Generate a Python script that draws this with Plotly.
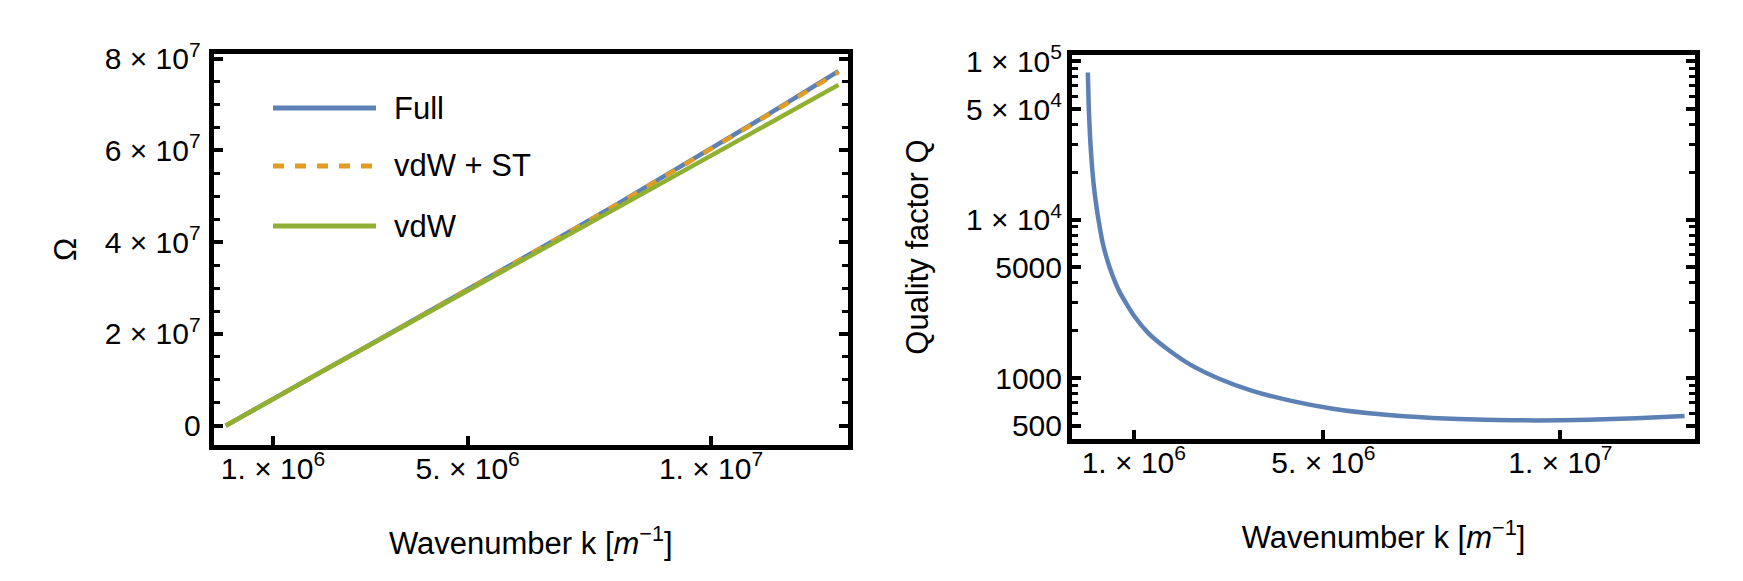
import plotly.graph_objs as go

# wavenumber samples (m^-1) for the dispersion panel
k_omega = [0.03e6, 1e6, 2e6, 3e6, 4e6, 5e6, 6e6, 7e6, 8e6, 9e6, 10e6, 11e6, 12e6, 12.62e6]
omega_full = [0.002e7, 0.589e7, 1.179e7, 1.770e7, 2.364e7, 2.963e7, 3.565e7, 4.173e7,
              4.786e7, 5.408e7, 6.037e7, 6.676e7, 7.324e7, 7.73e7]
omega_vdw_st = [0.002e7, 0.589e7, 1.179e7, 1.769e7, 2.362e7, 2.960e7, 3.561e7, 4.168e7,
                4.779e7, 5.399e7, 6.026e7, 6.662e7, 7.307e7, 7.71e7]
omega_vdw = [0.0, 0.589e7, 1.178e7, 1.766e7, 2.355e7, 2.944e7, 3.533e7, 4.122e7,
             4.710e7, 5.299e7, 5.888e7, 6.477e7, 7.066e7, 7.43e7]

# wavenumber samples for the quality factor panel
k_q = [0.03e6, 0.05e6, 0.08e6, 0.12e6, 0.18e6, 0.25e6, 0.35e6, 0.5e6, 0.7e6, 1.0e6,
       1.3e6, 1.7e6, 2.2e6, 2.8e6, 3.5e6, 4.3e6, 5.2e6, 6.2e6, 7.3e6, 8.4e6,
       9.5e6, 10.6e6, 11.6e6, 12.62e6]
q_factor = [85000, 51000, 32000, 21300, 14200, 10200, 7000, 4900, 3500, 2480,
            1930, 1530, 1210, 990, 830, 720, 640, 590, 560, 545,
            540, 545, 557, 575]

x_ticks = [1e6, 5e6, 1e7]
x_labels = ["1. × 10<sup>6</sup>", "5. × 10<sup>6</sup>", "1. × 10<sup>7</sup>"]
omega_ticks = [0, 2e7, 4e7, 6e7, 8e7]
omega_labels = ["0", "2 × 10<sup>7</sup>", "4 × 10<sup>7</sup>", "6 × 10<sup>7</sup>", "8 × 10<sup>7</sup>"]
omega_minor = [0.5e7, 1e7, 1.5e7, 2.5e7, 3e7, 3.5e7, 4.5e7, 5e7, 5.5e7, 6.5e7, 7e7, 7.5e7]
q_ticks = [500, 1000, 5000, 1e4, 5e4, 1e5]
q_labels = ["500", "1000", "5000", "1 × 10<sup>4</sup>", "5 × 10<sup>4</sup>", "1 × 10<sup>5</sup>"]
q_minor = [600, 700, 800, 900, 2000, 3000, 4000, 6000, 7000, 8000, 9000,
           2e4, 3e4, 4e4, 6e4, 7e4, 8e4, 9e4]

legend_names = ["Full", "vdW + ST", "vdW"]
colors = {"Full": "#5E81B5", "vdW + ST": "#E19C24", "vdW": "#8FB032"}

FONT = "Liberation Sans, Arial, sans-serif"

fig = go.Figure()

fig.add_trace(go.Scatter(x=k_omega, y=omega_full, mode="lines", name="Full",
                         line=dict(color=colors["Full"], width=4.5),
                         xaxis="x", yaxis="y", showlegend=False))
fig.add_trace(go.Scatter(x=k_omega, y=omega_vdw_st, mode="lines", name="vdW + ST",
                         line=dict(color=colors["vdW + ST"], width=4.5, dash="11px,11px"),
                         xaxis="x", yaxis="y", showlegend=False))
fig.add_trace(go.Scatter(x=k_omega, y=omega_vdw, mode="lines", name="vdW",
                         line=dict(color=colors["vdW"], width=4.5),
                         xaxis="x", yaxis="y", showlegend=False))
fig.add_trace(go.Scatter(x=k_q, y=q_factor, mode="lines", name="Q",
                         line=dict(color=colors["Full"], width=4.5, shape="spline", smoothing=0.5),
                         xaxis="x2", yaxis="y2", showlegend=False))

frame = dict(showline=True, linecolor="black", linewidth=5, showgrid=False,
             zeroline=False, ticks="inside", tickcolor="black", ticklen=9, tickwidth=3.5,
             automargin=False, tickfont=dict(family=FONT, size=30, color="black"))

xcommon = dict(frame, mirror=True, tickmode="array", tickvals=x_ticks, ticktext=x_labels,
               ticklabelstandoff=-7,
               title=dict(text="Wavenumber k [<i>m</i><sup>−1</sup>]",
                          font=dict(family=FONT, size=31, color="black"), standoff=50))

fig.update_layout(
    width=1743, height=581,
    paper_bgcolor="white", plot_bgcolor="white",
    margin=dict(l=0, r=0, t=0, b=0),
    showlegend=False,
    xaxis=dict(xcommon, domain=[0.11801, 0.48193], range=[-0.218e6, 12.815e6], anchor="y"),
    yaxis=dict(frame, mirror="ticks", domain=[0.24785, 0.92134], range=[-0.42e7, 8.109e7],
               anchor="x", tickmode="array", tickvals=omega_ticks, ticktext=omega_labels,
               ticklabelstandoff=2,
               minor=dict(tickmode="array", tickvals=omega_minor, ticks="inside",
                          ticklen=6, tickwidth=2.5, tickcolor="black"),
               title=dict(text="Ω", font=dict(family=FONT, size=31, color="black"), standoff=20)),
    xaxis2=dict(xcommon, domain=[0.61044, 0.96787], range=[-0.304e6, 12.84e6], anchor="y2"),
    yaxis2=dict(frame, mirror="ticks", type="log", domain=[0.25818, 0.91910],
                range=[2.615, 5.040], anchor="x2", tickmode="array", tickvals=q_ticks,
                ticktext=q_labels, ticklabelstandoff=-1,
                minor=dict(tickmode="array", tickvals=q_minor, ticks="inside",
                           ticklen=6, tickwidth=2.5, tickcolor="black"),
                title=dict(text="Quality factor Q", font=dict(family=FONT, size=31, color="black"),
                           standoff=30)),
)

# legend drawn by hand so the line samples are as long as in the original
legend_y = [0.82788, 0.72806, 0.62478]
for name, ly in zip(legend_names, legend_y):
    fig.add_shape(type="line", xref="paper", yref="paper", x0=0.15204, x1=0.21113, y0=ly, y1=ly,
                  line=dict(color=colors[name], width=5,
                            dash="11px,11px" if name == "vdW + ST" else "solid"))
    fig.add_annotation(xref="paper", yref="paper", x=0.2203, y=ly, text=name, showarrow=False,
                       xanchor="left", yanchor="middle",
                       font=dict(family=FONT, size=31, color="black"))

fig.write_html("out.html")
